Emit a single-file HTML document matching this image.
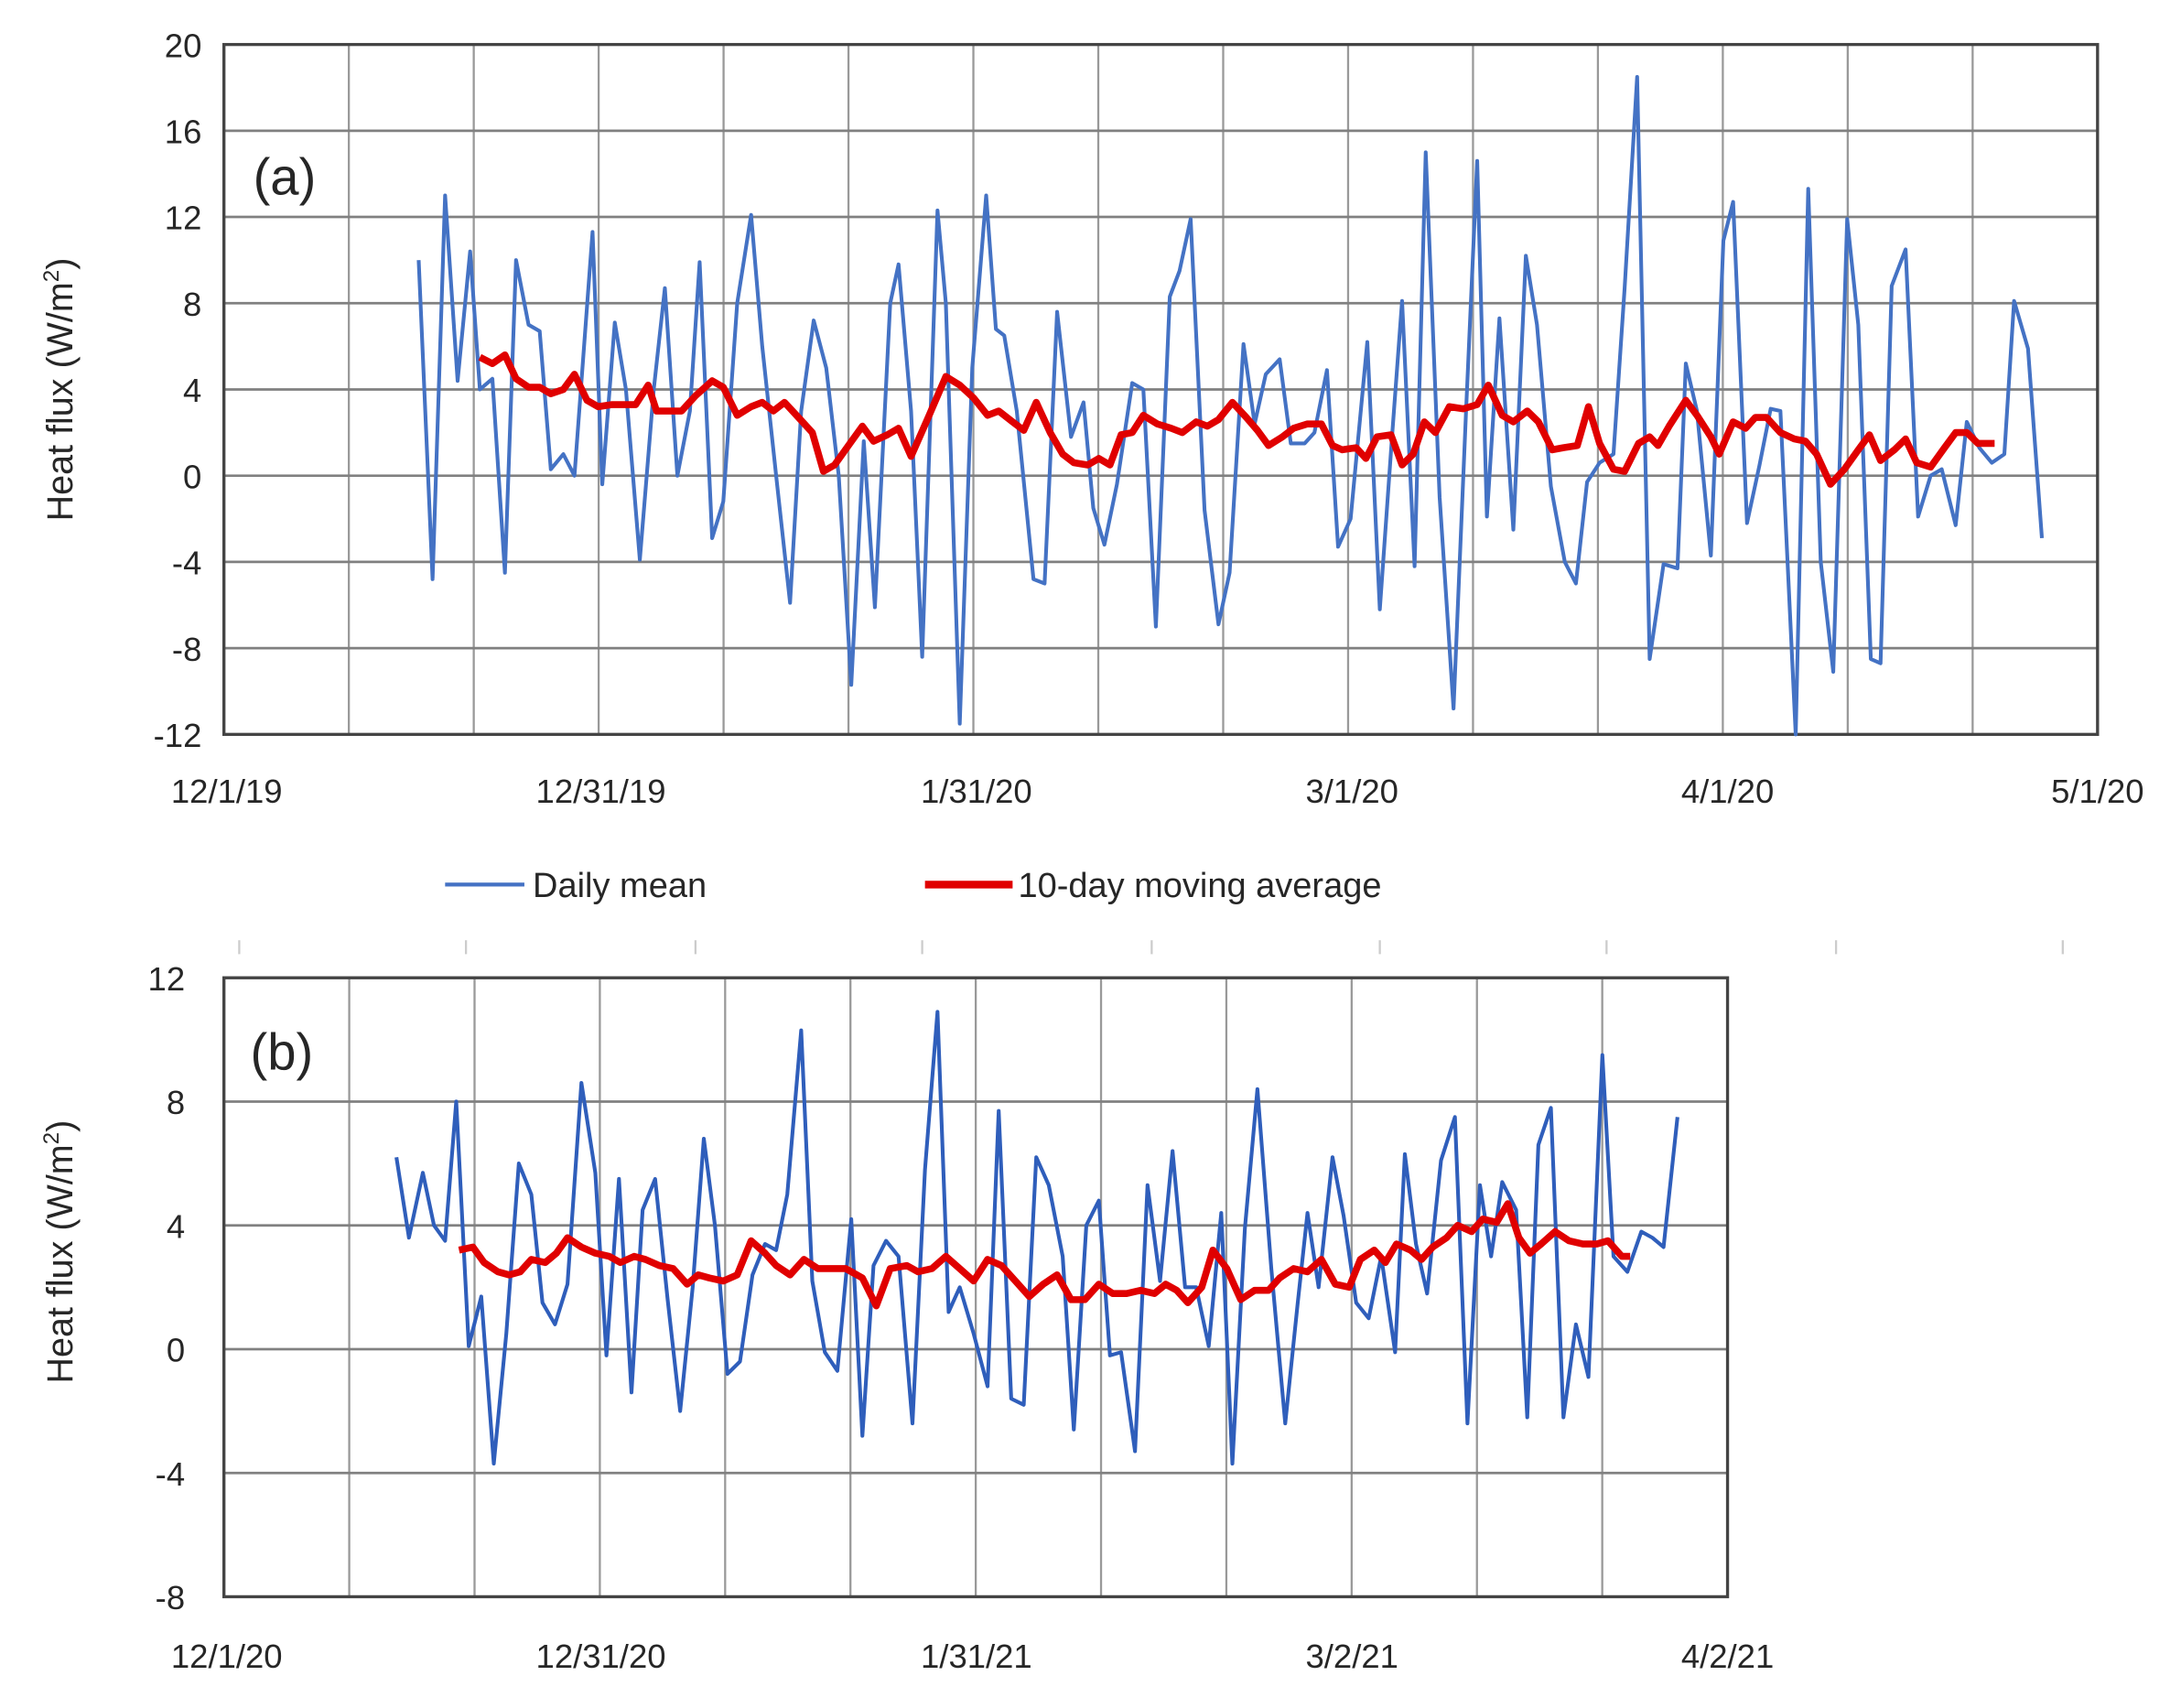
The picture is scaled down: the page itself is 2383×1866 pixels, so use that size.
<!DOCTYPE html>
<html><head><meta charset="utf-8"><style>
html,body{margin:0;padding:0;background:#fff;}
svg{display:block;}
text{font-family:"Liberation Sans","DejaVu Sans",sans-serif;fill:#262626;}
</style></head><body>
<svg id="s" width="2383" height="1866" viewBox="0 0 1568 1228" preserveAspectRatio="none" xmlns="http://www.w3.org/2000/svg">
<rect width="1568" height="1228" fill="#fff"/>
<g id="grid"></g>
<g font-size="24" text-anchor="end">
<text x="145" y="41">20</text><text x="145" y="103">16</text><text x="145" y="165">12</text>
<text x="145" y="227">8</text><text x="145" y="289">4</text><text x="145" y="351">0</text>
<text x="145" y="413">-4</text><text x="145" y="475">-8</text><text x="145" y="537">-12</text>
</g>
<g font-size="24" text-anchor="middle">
<text x="163" y="577">12/1/19</text><text x="432" y="577">12/31/19</text><text x="702" y="577">1/31/20</text>
<text x="972" y="577">3/1/20</text><text x="1242" y="577">4/1/20</text><text x="1508" y="577">5/1/20</text>
</g>
<text x="182" y="140" font-size="37">(a)</text>
<text transform="translate(52,280) rotate(-90)" font-size="26" text-anchor="middle">Heat flux (W/m<tspan font-size="16" dy="-10">2</tspan><tspan dy="10">)</tspan></text>
<line x1="320" y1="636" x2="377" y2="636" stroke="#4472C4" stroke-width="2.8"/>
<text x="383" y="645" font-size="25">Daily mean</text>
<line x1="665" y1="636" x2="728" y2="636" stroke="#E00000" stroke-width="5.5"/>
<text x="732" y="645" font-size="25">10-day moving average</text>
<g stroke="#ccc" stroke-width="1.5">
<line x1="172" y1="676" x2="172" y2="686"/><line x1="335" y1="676" x2="335" y2="686"/><line x1="500" y1="676" x2="500" y2="686"/>
<line x1="663" y1="676" x2="663" y2="686"/><line x1="828" y1="676" x2="828" y2="686"/><line x1="992" y1="676" x2="992" y2="686"/>
<line x1="1155" y1="676" x2="1155" y2="686"/><line x1="1320" y1="676" x2="1320" y2="686"/><line x1="1483" y1="676" x2="1483" y2="686"/>
</g>
<g font-size="24" text-anchor="end">
<text x="133" y="712">12</text><text x="133" y="801">8</text><text x="133" y="890">4</text>
<text x="133" y="979">0</text><text x="133" y="1068">-4</text><text x="133" y="1157">-8</text>
</g>
<g font-size="24" text-anchor="middle">
<text x="163" y="1199">12/1/20</text><text x="432" y="1199">12/31/20</text><text x="702" y="1199">1/31/21</text>
<text x="972" y="1199">3/2/21</text><text x="1242" y="1199">4/2/21</text>
</g>
<text x="180" y="769" font-size="37">(b)</text>
<text transform="translate(52,900) rotate(-90)" font-size="26" text-anchor="middle">Heat flux (W/m<tspan font-size="16" dy="-10">2</tspan><tspan dy="10">)</tspan></text>
<g id="series"></g>
</svg>
<script>
var NS="http://www.w3.org/2000/svg";
function el(p,t,a){var e=document.createElementNS(NS,t);for(var k in a)e.setAttribute(k,a[k]);p.appendChild(e);return e;}
var g=document.getElementById('grid');
for(var i=0;i<=15;i++){var x=161+i*(1347/15);el(g,'line',{x1:x,y1:32,x2:x,y2:528,stroke:'#999','stroke-width':1.5});}
for(var j=0;j<=8;j++){var y=32+j*62;el(g,'line',{x1:161,y1:y,x2:1508,y2:y,stroke:'#808080','stroke-width':1.8});}
el(g,'rect',{x:161,y:32,width:1347,height:496,fill:'none',stroke:'#444','stroke-width':2.2});
for(var i=0;i<=12;i++){var x=161+i*(1081/12);el(g,'line',{x1:x,y1:703,x2:x,y2:1148,stroke:'#999','stroke-width':1.5});}
for(var j=0;j<=5;j++){var y=703+j*89;el(g,'line',{x1:161,y1:y,x2:1242,y2:y,stroke:'#808080','stroke-width':1.8});}
el(g,'rect',{x:161,y:703,width:1081,height:445,fill:'none',stroke:'#444','stroke-width':2.2});

var aB=[301,10,311,-4.8,320,13,329,4.4,338,10.4,345,4,354,4.5,363,-4.5,371,10,380,7,388,6.7,396,0.3,405,1,413,0,426,11.3,433,-0.4,442,7.1,450,4,460,-3.9,470,4,478,8.7,487,0,496,3,503,9.9,512,-2.9,520,-1.2,530,8,540,12.1,548,6,558,0,568,-5.9,576,3,585,7.2,594,5,603,0,612,-9.7,621,1.6,629,-6.1,640,8,646,9.8,655,3,663,-8.4,674,12.3,680,8,690,-11.5,699,5,709,13,716,6.8,722,6.5,731,3,743,-4.8,751,-5,760,7.6,770,1.8,779,3.4,786,-1.5,794,-3.2,803,-0.4,814,4.3,822,4,831,-7,841,8.3,848,9.5,856,11.9,866,-1.6,876,-6.9,884,-4.5,894,6.1,902,2.4,910,4.7,920,5.4,928,1.5,938,1.5,945,2,954,4.9,962,-3.3,971,-2,983,6.2,992,-6.2,1001,2,1008,8.1,1017,-4.2,1025,15,1035,-1,1045,-10.8,1054,3,1062,14.6,1069,-1.9,1078,7.3,1088,-2.5,1097,10.2,1105,7,1115,-0.5,1125,-4,1133,-5,1141,-0.3,1150,0.6,1160,1,1168,8.7,1177,18.5,1186,-8.5,1196,-4.1,1206,-4.3,1212,5.2,1220,3,1230,-3.7,1239,10.9,1246,12.7,1256,-2.2,1265,0.5,1273,3.1,1280,3,1291,-12,1300,13.3,1309,-4,1318,-9.1,1328,11.9,1336,7,1345,-8.5,1352,-8.7,1360,8.8,1370,10.5,1379,-1.9,1388,0,1396,0.3,1406,-2.3,1414,2.5,1423,1.3,1432,0.6,1441,1,1448,8.1,1458,5.9,1468,-2.9];
var aR=[345,5.5,354,5.2,363,5.6,371,4.5,380,4.1,388,4.1,396,3.8,405,4,413,4.7,422,3.5,430,3.2,440,3.3,448,3.3,457,3.3,466,4.2,472,3.0,482,3,490,3,500,3.7,512,4.4,520,4.1,530,2.8,540,3.2,548,3.4,556,3,564,3.4,574,2.7,584,2,592,0.2,600,0.5,610,1.4,620,2.3,628,1.6,638,1.9,646,2.2,655,0.9,668,2.8,680,4.6,690,4.2,700,3.6,710,2.8,718,3,728,2.5,736,2.1,745,3.4,755,2,764,1,772,0.6,782,0.5,790,0.8,798,0.5,806,1.9,814,2,822,2.8,832,2.4,842,2.2,850,2,860,2.5,868,2.3,876,2.6,886,3.4,896,2.7,904,2.1,912,1.4,922,1.8,930,2.2,940,2.4,950,2.4,958,1.4,965,1.2,975,1.3,982,0.8,990,1.8,1000,1.9,1008,0.5,1016,1,1024,2.5,1032,2,1042,3.2,1052,3.1,1062,3.3,1070,4.2,1080,2.8,1088,2.5,1098,3,1106,2.5,1116,1.2,1124,1.3,1134,1.4,1142,3.2,1150,1.5,1160,0.3,1168,0.2,1178,1.5,1186,1.8,1192,1.4,1200,2.3,1212,3.5,1220,2.8,1230,1.8,1236,1,1246,2.5,1255,2.2,1262,2.7,1270,2.7,1280,2,1290,1.7,1298,1.6,1306,1,1316,-0.4,1326,0.3,1336,1.2,1344,1.9,1352,0.7,1362,1.2,1370,1.7,1378,0.6,1388,0.4,1398,1.3,1406,2,1414,2,1422,1.5,1434,1.5];
var bB=[285,6.2,294,3.6,304,5.7,312,4,320,3.5,328,8,337,0.1,346,1.7,355,-3.7,364,0.5,373,6,382,5,390,1.5,399,0.8,408,2.1,418,8.6,428,5.7,436,-0.2,445,5.5,454,-1.4,462,4.5,471,5.5,480,1.6,489,-2,498,2,506,6.8,514,4,523,-0.8,532,-0.4,541,2.4,550,3.4,558,3.2,566,5,576,10.3,584,2.2,593,-0.1,602,-0.7,612,4.2,620,-2.8,628,2.7,637,3.5,646,3,656,-2.4,665,5.8,674,10.9,682,1.2,690,2,700,0.5,710,-1.2,718,7.7,727,-1.6,736,-1.8,745,6.2,754,5.3,764,3,772,-2.6,781,4,790,4.8,798,-0.2,806,-0.1,816,-3.3,825,5.3,834,2.2,843,6.4,852,2,860,2,869,0.1,878,4.4,886,-3.7,895,3.9,904,8.4,914,2.6,924,-2.4,933,1.5,940,4.4,948,2,958,6.2,966,4.3,975,1.5,984,1,993,3,1003,-0.1,1010,6.3,1018,3.4,1026,1.8,1036,6.1,1046,7.5,1055,-2.4,1064,5.3,1072,3,1080,5.4,1090,4.5,1098,-2.2,1106,6.6,1115,7.8,1124,-2.2,1133,0.8,1142,-0.9,1152,9.5,1160,3,1170,2.5,1180,3.8,1188,3.6,1196,3.3,1206,7.5];
var bR=[330,3.2,340,3.3,348,2.8,358,2.5,366,2.4,374,2.5,382,2.9,392,2.8,400,3.1,408,3.6,418,3.3,428,3.1,438,3,446,2.8,456,3,464,2.9,474,2.7,484,2.6,494,2.1,502,2.4,510,2.3,520,2.2,530,2.4,540,3.5,550,3.1,558,2.7,568,2.4,578,2.9,588,2.6,598,2.6,608,2.6,620,2.3,630,1.4,640,2.6,652,2.7,660,2.5,670,2.6,680,3,690,2.6,700,2.2,710,2.9,720,2.7,730,2.2,740,1.7,750,2.1,760,2.4,770,1.6,780,1.6,790,2.1,800,1.8,810,1.8,820,1.9,830,1.8,838,2.1,846,1.9,854,1.5,864,2,872,3.2,882,2.6,892,1.6,902,1.9,912,1.9,920,2.3,930,2.6,940,2.5,950,2.9,960,2.1,970,2,978,2.9,988,3.2,996,2.8,1004,3.4,1014,3.2,1022,2.9,1030,3.3,1040,3.6,1048,4,1058,3.8,1066,4.2,1076,4.1,1084,4.7,1092,3.6,1100,3.1,1108,3.4,1118,3.8,1128,3.5,1138,3.4,1148,3.4,1156,3.5,1166,3,1172,3];
function pts(d,y0,k){var s=[];for(var i=0;i<d.length;i+=2)s.push(d[i]+','+(y0-d[i+1]*k).toFixed(1));return s.join(' ');}
var S=document.getElementById('series');
el(S,'polyline',{points:pts(aB,342,15.5),fill:'none',stroke:'#4472C4','stroke-width':2.7,'stroke-linejoin':'round'});
el(S,'polyline',{points:pts(aR,342,15.5),fill:'none',stroke:'#E00000','stroke-width':5,'stroke-linejoin':'round'});
el(S,'polyline',{points:pts(bB,970,22.25),fill:'none',stroke:'#2F5EBB','stroke-width':2.7,'stroke-linejoin':'round'});
el(S,'polyline',{points:pts(bR,970,22.25),fill:'none',stroke:'#E00000','stroke-width':5,'stroke-linejoin':'round'});
</script>
</body></html>
